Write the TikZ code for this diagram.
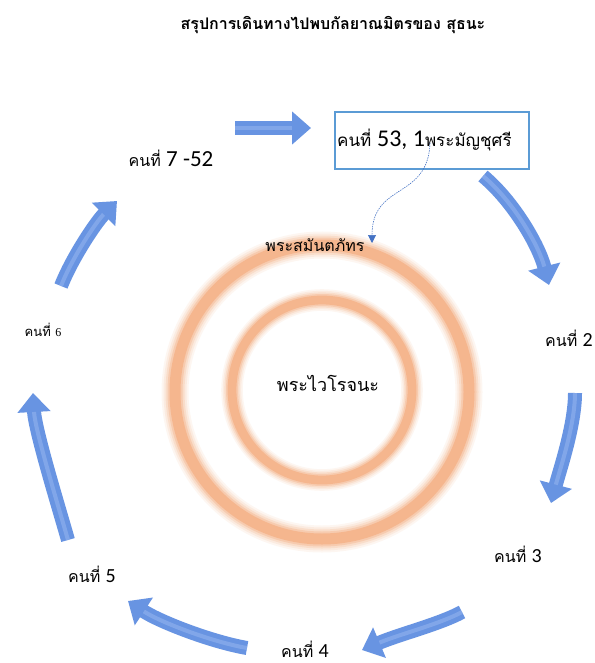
\documentclass[tikz,border=0pt]{standalone}
\usepackage{fontspec}
\usetikzlibrary{arrows.meta}
\newfontfamily\thai[Script=Thai]{Loma}
\newfontfamily\digits{Carlito}
\newfontfamily\serifdigits{Liberation Serif}
\definecolor{arrowblue}{RGB}{104,148,226}
\definecolor{arrowlight}{RGB}{160,190,242}
\definecolor{ringorange}{RGB}{240,130,60}
\definecolor{boxblue}{RGB}{91,155,213}
\definecolor{linkblue}{RGB}{68,114,196}
\tikzset{
  flowarrow/.style={draw=arrowblue, line width=14pt, line cap=butt,
    -{Triangle[width=32pt,length=19pt]}},
  flowshine/.style={draw=arrowlight, line width=4pt, opacity=0.45, shorten >=19pt},
  label/.style={inner sep=0pt, anchor=base},
}
\begin{document}
\begin{tikzpicture}[x=1pt,y=-1pt]
\useasboundingbox (0,0) rectangle (594,663);
\fill[white] (0,0) rectangle (594,663);

% title
\node[label] (title) at (333,30) {\thai\bfseries\fontsize{16}{19}\selectfont สรุปการเดินทางไปพบกัลยาณมิตรของ สุธนะ};

% soft orange rings
\foreach \w/\o in {27/0.07, 23/0.09, 19/0.13, 15/0.19, 11/0.28}{
  \draw[ringorange, line width=\w pt, opacity=\o] (322,392) circle (147);
  \draw[ringorange, line width=0.8*\w pt, opacity=\o] (322,390) circle (90);
}

\node[label] (outer) at (315,251) {\thai\fontsize{16}{19}\selectfont พระสมันตภัทร};
\node[label] (centre) at (328,391) {\thai\fontsize{18}{21}\selectfont พระไวโรจนะ};

% the box at the top
\node[draw=boxblue, line width=1.6pt, minimum width=194pt, minimum height=57pt, inner sep=0pt]
  (box) at (432,140.5) {};
\node[anchor=base west, inner sep=0pt] (boxtext) at (337,147)
  {\thai\fontsize{17}{20}\selectfont คนที่ {\digits\fontsize{24}{28}\selectfont 53, 1}พระมัญชุศรี};

% labels round the circle
\node[label] (p7) at (171,167) {\thai\fontsize{16}{19}\selectfont คนที่ {\digits\fontsize{23}{26}\selectfont 7 -52}};
\node[label] (p2) at (569,346) {\thai\fontsize{16}{19}\selectfont คนที่ {\digits\fontsize{20}{24}\selectfont 2}};
\node[label] (p3) at (518,562) {\thai\fontsize{16}{19}\selectfont คนที่ {\digits\fontsize{20}{24}\selectfont 3}};
\node[label] (p4) at (305,657) {\thai\fontsize{16}{19}\selectfont คนที่ {\digits\fontsize{20}{24}\selectfont 4}};
\node[label] (p5) at (92,582) {\thai\fontsize{16}{19}\selectfont คนที่ {\digits\fontsize{20}{24}\selectfont 5}};
\node[label] (p6) at (43,336) {\thai\fontsize{13}{16}\selectfont คนที่ {\serifdigits\fontsize{12}{14}\selectfont 6}};

% dotted link from the box to the outer ring
\coordinate (linkstart) at (430,143);
\coordinate (linkend) at (372,243);
\draw[linkblue, line width=0.6pt, dash pattern=on 1.4pt off 1pt,
  -{Triangle[width=8pt,length=8pt]}]
  (linkstart) .. controls (428,200) and (372,182) .. (linkend);

% curved arrows round the circle
\coordinate (a1s) at (235,128);   \coordinate (a1e) at (311,128);
\coordinate (a2s) at (483,176);   \coordinate (a2e) at (549,285);
\coordinate (a3s) at (575,393);   \coordinate (a3e) at (551,503);
\coordinate (a4s) at (462,612);   \coordinate (a4e) at (362,650);
\coordinate (a5s) at (247,648);   \coordinate (a5e) at (128,601);
\coordinate (a6s) at (68,540);    \coordinate (a6e) at (33,393);
\coordinate (a7s) at (61,286);    \coordinate (a7e) at (117,201);

\draw[flowarrow] (a1s) -- (a1e);
\draw[flowarrow] (a2s) .. controls (514,202) and (539,246) .. (a2e);
\draw[flowarrow] (a3s) .. controls (575,425) and (560,469) .. (a3e);
\draw[flowarrow] (a4s) .. controls (440,624) and (400,634) .. (a4e);
\draw[flowarrow] (a5s) .. controls (212,642) and (160,622) .. (a5e);
\draw[flowarrow] (a6s) .. controls (58,505) and (35,430) .. (a6e);
\draw[flowarrow] (a7s) .. controls (72,258) and (96,222) .. (a7e);

\draw[flowshine] (a1s) -- (a1e);
\draw[flowshine] (a2s) .. controls (514,202) and (539,246) .. (a2e);
\draw[flowshine] (a3s) .. controls (575,425) and (560,469) .. (a3e);
\draw[flowshine] (a4s) .. controls (440,624) and (400,634) .. (a4e);
\draw[flowshine] (a5s) .. controls (212,642) and (160,622) .. (a5e);
\draw[flowshine] (a6s) .. controls (58,505) and (35,430) .. (a6e);
\draw[flowshine] (a7s) .. controls (72,258) and (96,222) .. (a7e);
\end{tikzpicture}
\end{document}
